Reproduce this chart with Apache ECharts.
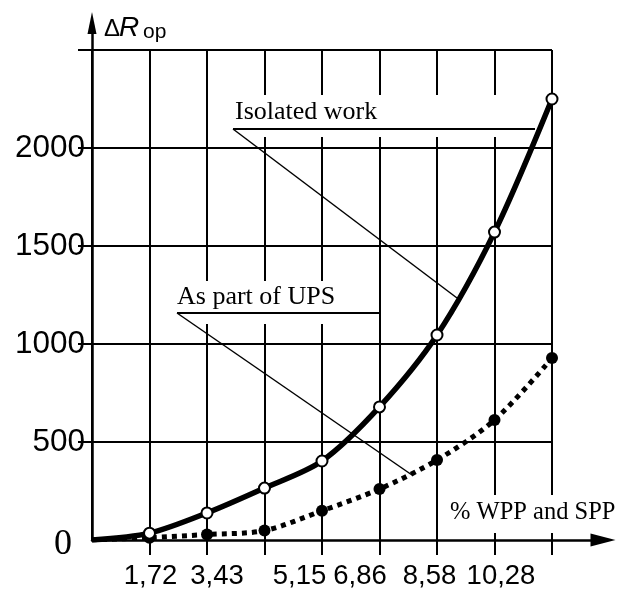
<!DOCTYPE html>
<html><head><meta charset="utf-8">
<script src="https://cdn.jsdelivr.net/npm/echarts@6/dist/echarts.min.js"></script>
<style>html,body{margin:0;padding:0;background:#fff}#c{width:626px;height:590px}</style>
</head><body><div id="c"></div>
<script>
// ---- data ----
const xCategories = ['0', '1,72', '3,43', '5,15', '6,86', '8,58', '10,28', '', ''];
const isolatedWork = [0, 35, 138, 265, 403, 679, 1046, 1571, 2250];
const partOfUPS = [0, 12, 28, 48, 149, 260, 408, 612, 928];
const yTickValues = [0, 500, 1000, 1500, 2000];
const yTickLabels = ['0', '500', '1000', '1500', '2000'];
const seriesNames = ['Isolated work', 'As part of UPS'];
const xAxisName = '% WPP and SPP';

// ---- style ----
const sans = 'Liberation Sans';
const serif = 'Liberation Serif';
const labelShift = [0, 1, 10, 35, 38, 50, 64, 0, 0]; // px shift of x labels (as drawn in the original)
const xRich = {};
labelShift.forEach((s, i) => {
  xRich['s' + i] = { fontFamily: sans, fontSize: 27.5, color: '#000', padding: [0, 0, 0, 2 * s] };
});
const noFirstSymbol = arr => arr.map((v, i) => i === 0 ? { value: v, symbol: 'none' } : v);

const chart = echarts.init(document.getElementById('c'));
chart.setOption({
  animation: false,
  backgroundColor: '#fff',
  grid: [
    { left: 92, right: 74, top: 50, bottom: 50 },
    { left: 92, right: 23, top: 23, bottom: 50 }
  ],
  xAxis: [
    {
      type: 'category', gridIndex: 0, data: xCategories, boundaryGap: false,
      axisLine: { show: false },
      axisTick: { show: true, interval: i => i > 0, length: 15, lineStyle: { color: '#000', width: 2 } },
      splitLine: { show: true, interval: 0, lineStyle: { color: '#000', width: 2 } },
      axisLabel: {
        interval: 0, margin: 22,
        formatter: (v, i) => (i > 0 && v !== '') ? '{s' + i + '|' + v + '}' : '',
        rich: xRich
      }
    },
    {
      type: 'value', gridIndex: 1, min: 0, max: 1,
      axisLine: { show: true, onZero: false, symbol: ['none', 'triangle'], symbolSize: [13, 25], lineStyle: { color: '#000', width: 2.5 } },
      axisTick: { show: false }, axisLabel: { show: false }, splitLine: { show: false }
    }
  ],
  yAxis: [
    {
      type: 'value', gridIndex: 0, min: 0, max: 2500, interval: 500,
      axisLine: { show: false },
      axisTick: { show: true, length: 14, customValues: [500, 1000, 1500, 2000, 2500], lineStyle: { color: '#000', width: 2 } },
      splitLine: { show: true, lineStyle: { color: '#000', width: 2 } },
      axisLabel: {
        margin: 7, fontFamily: sans, fontSize: 31.5, color: '#000',
        formatter: v => {
          const k = yTickValues.indexOf(v);
          if (k < 0) return '';
          return v === 0 ? '{z|' + yTickLabels[k] + '}' : yTickLabels[k];
        },
        rich: { z: { fontFamily: serif, fontSize: 36, color: '#000', padding: [10, 13, 0, 0] } }
      }
    },
    {
      type: 'value', gridIndex: 1, min: 0, max: 1,
      axisLine: { show: true, onZero: false, symbol: ['none', 'triangle'], symbolSize: [9, 22], lineStyle: { color: '#000', width: 2.5 } },
      axisTick: { show: false }, axisLabel: { show: false }, splitLine: { show: false }
    }
  ],
  series: [
    {
      name: seriesNames[1], type: 'line', xAxisIndex: 0, yAxisIndex: 0, data: noFirstSymbol(partOfUPS),
      smooth: 0.3, symbol: 'circle', symbolSize: 12, showSymbol: true,
      lineStyle: { color: '#000', width: 5, type: [5, 5], cap: 'butt' },
      itemStyle: { color: '#000', borderWidth: 0 }, z: 3
    },
    {
      name: seriesNames[0], type: 'line', xAxisIndex: 0, yAxisIndex: 0, data: noFirstSymbol(isolatedWork),
      smooth: 0.3, symbol: 'circle', symbolSize: 11, showSymbol: true,
      lineStyle: { color: '#000', width: 5.5 },
      itemStyle: { color: '#fff', borderColor: '#000', borderWidth: 2 }, z: 4
    }
  ],
  graphic: [
    { type: 'rect', z: 1, shape: { x: 228, y: 95, width: 310, height: 42 }, style: { fill: '#fff' } },
    { type: 'rect', z: 1, shape: { x: 172, y: 281, width: 206, height: 43 }, style: { fill: '#fff' } },
    { type: 'rect', z: 1, shape: { x: 445, y: 495, width: 176, height: 38 }, style: { fill: '#fff' } },
    { type: 'text', z: 5, x: 235, y: 112, style: { text: seriesNames[0], font: '26px "Liberation Serif"', fill: '#000', verticalAlign: 'middle' } },
    { type: 'text', z: 5, x: 177, y: 297, style: { text: seriesNames[1], font: '26px "Liberation Serif"', fill: '#000', verticalAlign: 'middle' } },
    { type: 'text', z: 5, x: 450, y: 513, style: { text: xAxisName, font: '24.5px "Liberation Serif"', fill: '#000', verticalAlign: 'middle' } },
    { type: 'line', z: 5, shape: { x1: 233, y1: 129, x2: 535, y2: 129 }, style: { stroke: '#000', lineWidth: 2 } },
    { type: 'line', z: 5, shape: { x1: 177, y1: 313, x2: 380, y2: 313 }, style: { stroke: '#000', lineWidth: 2 } },
    { type: 'line', z: 5, shape: { x1: 233, y1: 129, x2: 457, y2: 298 }, style: { stroke: '#000', lineWidth: 1.5 } },
    { type: 'line', z: 5, shape: { x1: 177, y1: 313, x2: 412, y2: 475 }, style: { stroke: '#000', lineWidth: 1.5 } },
    { type: 'text', z: 5, x: 104, y: 29.5, style: { text: '\u0394', font: '24px "Liberation Sans"', fill: '#000', verticalAlign: 'middle' } },
    { type: 'text', z: 5, x: 119, y: 28.3, style: { text: 'R', font: 'italic 28px "Liberation Sans"', fill: '#000', verticalAlign: 'middle' } },
    { type: 'text', z: 5, x: 143, y: 32, style: { text: 'op', font: '21px "Liberation Sans"', fill: '#000', verticalAlign: 'middle' } }
  ]
});
</script></body></html>
